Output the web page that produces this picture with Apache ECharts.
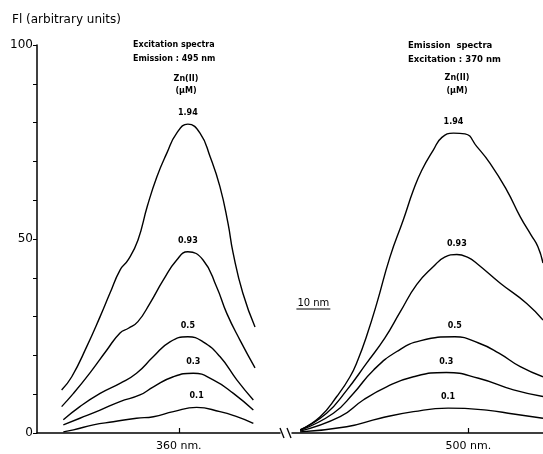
<!DOCTYPE html>
<html>
<head>
<meta charset="utf-8">
<script src="https://cdn.jsdelivr.net/npm/echarts@6/dist/echarts.min.js"></script>
<style>
html, body { margin: 0; padding: 0; background: #fff; }
#chart { width: 543px; height: 454px; }
</style>
</head>
<body>
<div id="chart"></div>
<script>
// Zn(II) concentrations (uM), one curve each
var concentrations = ['1.94', '0.93', '0.5', '0.3', '0.1'];

// excitation spectra (emission 495 nm): [wavelength nm, Fl]
var ex194 = [[325.3,11.1],[328.3,14.5],[332.7,22.2],[336.7,30],[339.6,36],[342.6,42],[345,44.6],[347.9,49.7],[350.7,58.5],[353.5,66],[356.4,72],[359.4,77.3],[362.7,79.6],[366.3,77.3],[369.3,71.2],[372.2,63.5],[374.6,54],[376.1,46.4],[379,36],[382.6,27.3]];
var ex093 = [[325.3,6.8],[328.8,10.2],[333.7,15.5],[338.7,21.4],[342.6,25.8],[345.1,27],[347.9,28.7],[351.5,33.5],[355.4,39.4],[359.4,44.6],[362.7,46.7],[367.2,44.6],[371.2,37.7],[374.2,30.9],[378.1,24],[382.6,16.8]];
var ex05 = [[325.8,3.4],[330.7,6.8],[336.7,10.2],[342.6,12.8],[347.5,15.4],[352.5,19.7],[357.4,23.5],[362.7,24.8],[367.2,23.5],[372.2,19.7],[377.2,13.7],[382.1,8.5]];
var ex03 = [[325.8,2.1],[330.7,3.8],[336.7,5.9],[342.6,8.1],[348.5,9.8],[352.5,11.9],[358.4,14.5],[364.3,15.4],[370.2,13.7],[376.2,10.2],[382.1,5.9]];
var ex01 = [[325.8,0.3],[328.8,0.8],[334.7,2.1],[340.6,2.9],[347.5,3.8],[352.5,4.2],[358.4,5.5],[365.3,6.6],[372.2,5.5],[377.2,4.2],[382.1,2.5]];

// emission spectra (excitation 370 nm)
var em194 = [[450.4,0.8],[456.3,4.2],[461.2,9.4],[465.1,14.5],[467.5,19],[470,25],[473,33.4],[476.9,45.4],[480.8,54.9],[483.8,62.6],[486.3,67.8],[489.7,73],[492.2,76.2],[495.6,77.3],[499,77.1],[502.5,73.8],[506.4,69.5],[511.3,62.6],[515.3,55.7],[518.5,51],[520.5,48],[522,43.8]];
var em093 = [[450.4,0.8],[458.2,5.1],[464.1,11],[470,18],[475.4,24.5],[479.9,31.2],[484.8,38.3],[489.7,42.9],[493,45.3],[496.6,46],[500,45.2],[502.5,43.7],[509.4,38.6],[517.2,33.4],[522,29.1]];
var em05 = [[450.4,0.7],[460.2,5.1],[466.1,10.2],[472,16.2],[478.9,21],[486,23.8],[496,24.8],[503,23.2],[509,20.6],[515.3,17.1],[522,14.5]];
var em03 = [[450.4,0.5],[462.2,4.2],[469,8.5],[475.9,11.9],[483.8,14.5],[493.5,15.6],[503,14.1],[513.3,11.1],[522,9.4]];
var em01 = [[450.4,0.3],[464.1,1.6],[474,3.8],[483.8,5.5],[494,6.4],[505.4,5.9],[513.3,4.9],[522,3.8]];

var yLabels = [0, 50, 100];
var exTicks = [360];
var emTicks = [500];

var excitation = [ex194, ex093, ex05, ex03, ex01];
var emission = [em194, em093, em05, em03, em01];

var mychart = echarts.init(document.getElementById('chart'));

function curve(name, data, idx) {
    return {
        name: name,
        type: 'line',
        xAxisIndex: idx,
        yAxisIndex: idx,
        data: data,
        smooth: true,
        showSymbol: false,
        silent: true,
        lineStyle: { color: '#000', width: 1.4 },
        markPoint: {
            symbol: 'circle',
            symbolSize: 0,
            silent: true,
            data: [{ type: 'max', valueDim: 'y' }],
            label: {
                show: true,
                position: 'top',
                distance: 7,
                color: '#000',
                fontSize: 8,
                fontWeight: 'bold',
                fontFamily: 'DejaVu Sans',
                formatter: function () { return name; }
            }
        }
    };
}

var series = [];
concentrations.forEach(function (c, i) {
    series.push(curve(c, excitation[i], 0));
    series.push(curve(c, emission[i], 1));
});

function xAxisOf(idx, min, max, ticks) {
    return {
        type: 'value',
        gridIndex: idx,
        min: min,
        max: max,
        axisLine: { show: true, lineStyle: { color: '#000', width: 1.5 } },
        axisTick: { show: true, customValues: ticks, inside: true, length: 5, lineStyle: { color: '#000', width: 1.2 } },
        axisLabel: {
            show: true, customValues: ticks, formatter: '{value} nm.',
            color: '#000', fontSize: 11, fontFamily: 'DejaVu Sans', margin: 8
        },
        splitLine: { show: false }
    };
}

var txt = function (s, x, y, font, align) {
    return { type: 'text', x: x, y: y, style: { text: s, font: font, fill: '#000', align: align || 'left', verticalAlign: 'middle' } };
};

var option = {
    animation: false,
    backgroundColor: '#fff',
    grid: [
        { left: 37, right: 263, top: 45, bottom: 21, outerBoundsMode: 'none' },
        { left: 292, right: 0, top: 45, bottom: 21, outerBoundsMode: 'none' }
    ],
    xAxis: [
        xAxisOf(0, 318, 390, exTicks),
        xAxisOf(1, 448, 522, emTicks)
    ],
    yAxis: [
        {
            type: 'value', gridIndex: 0, min: 0, max: 100, interval: 10,
            axisLine: { show: true, lineStyle: { color: '#000', width: 1.5 } },
            axisTick: { show: true, length: 4, lineStyle: { color: '#000', width: 1 } },
            axisLabel: {
                show: true, customValues: yLabels, color: '#000',
                fontSize: 12, fontFamily: 'DejaVu Sans', margin: 4
            },
            splitLine: { show: false }
        },
        { type: 'value', gridIndex: 1, min: 0, max: 100, show: false }
    ],
    graphic: [
        txt('Fl (arbitrary units)', 12, 20, '12px "DejaVu Sans"'),
        txt('Excitation spectra', 133, 45, 'bold 8px "DejaVu Sans"'),
        txt('Emission : 495 nm', 133, 59, 'bold 8px "DejaVu Sans"'),
        txt('Zn(II)', 186, 79, 'bold 8px "DejaVu Sans"', 'center'),
        txt('(\u00b5M)', 186, 91, 'bold 8px "DejaVu Sans"', 'center'),
        txt('Emission  spectra', 408, 46, 'bold 8.5px "DejaVu Sans"'),
        txt('Excitation : 370 nm', 408, 60, 'bold 8.5px "DejaVu Sans"'),
        txt('Zn(II)', 457, 78, 'bold 8px "DejaVu Sans"', 'center'),
        txt('(\u00b5M)', 457, 91, 'bold 8px "DejaVu Sans"', 'center'),
        // axis break marks
        { type: 'line', shape: { x1: 280, y1: 428, x2: 284, y2: 438 }, style: { stroke: '#000', lineWidth: 1.3 } },
        { type: 'line', shape: { x1: 287, y1: 428, x2: 291, y2: 438 }, style: { stroke: '#000', lineWidth: 1.3 } }
    ],
    series: series
};

mychart.setOption(option);

// 10 nm scale bar, measured on the emission axis
var bx1 = mychart.convertToPixel({ xAxisIndex: 1 }, 449.3);
var bx2 = mychart.convertToPixel({ xAxisIndex: 1 }, 459.3);
mychart.setOption({
    graphic: option.graphic.concat([
        txt('10 nm', (bx1 + bx2) / 2, 303, '10px "DejaVu Sans"', 'center'),
        { type: 'line', shape: { x1: bx1, y1: 309, x2: bx2, y2: 309 }, style: { stroke: '#000', lineWidth: 1.2 } }
    ])
});
</script>
</body>
</html>
